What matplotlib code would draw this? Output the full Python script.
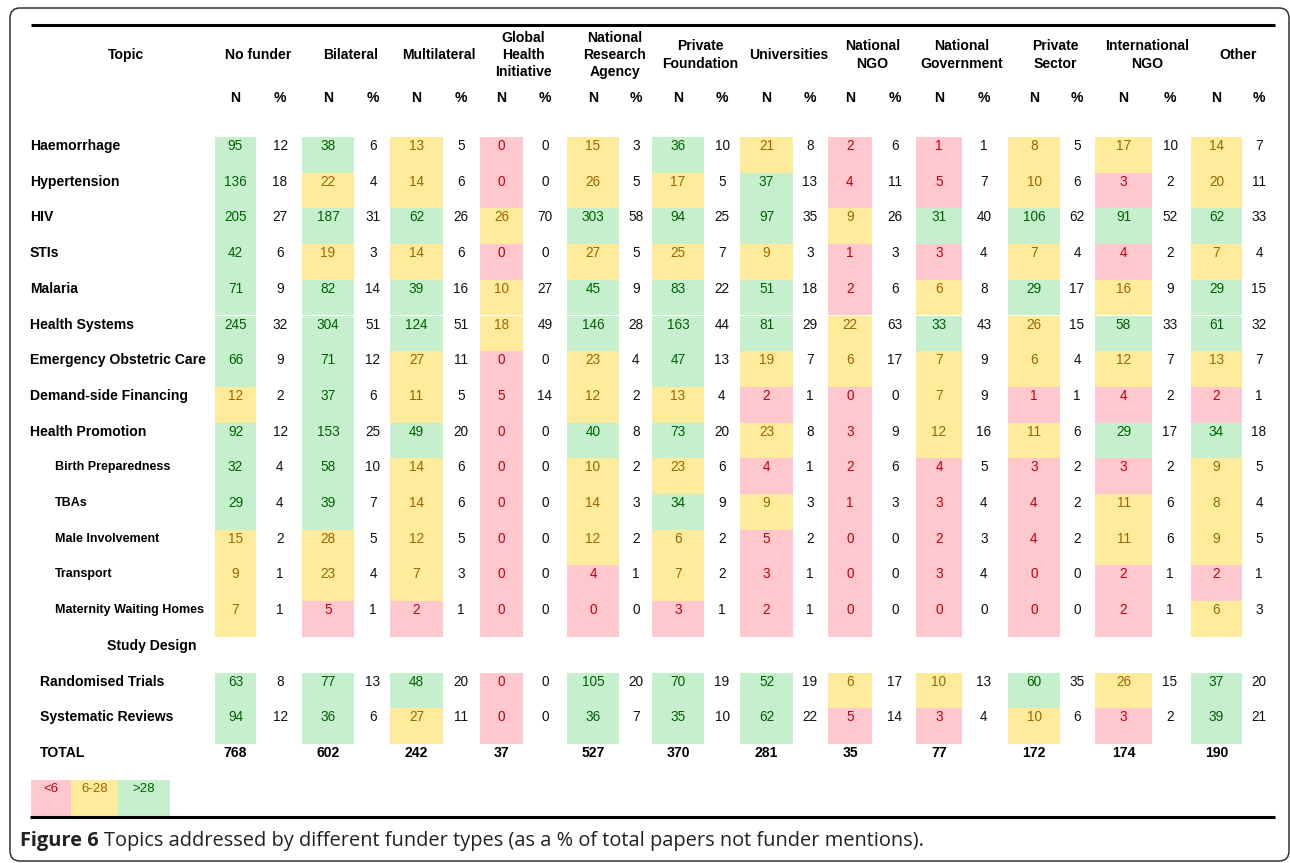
import matplotlib.pyplot as plt
from matplotlib.patches import Rectangle, FancyBboxPatch

# funder types (header text, with line breaks as in the figure)
funders = ["No funder", "Bilateral", "Multilateral", "Global\nHealth\nInitiative",
           "National\nResearch\nAgency", "Private\nFoundation", "Universities",
           "National\nNGO", "National\nGovernment", "Private\nSector",
           "International\nNGO", "Other"]

topics = ["Haemorrhage", "Hypertension", "HIV", "STIs", "Malaria", "Health Systems",
          "Emergency Obstetric Care", "Demand-side Financing", "Health Promotion",
          "Birth Preparedness", "TBAs", "Male Involvement", "Transport",
          "Maternity Waiting Homes", "Study Design", "Randomised Trials",
          "Systematic Reviews"]
# 0 = topic, 1 = sub-topic, 2 = section heading, 3 = study design row
levels = [0, 0, 0, 0, 0, 0, 0, 0, 0, 1, 1, 1, 1, 1, 2, 3, 3]

# N per funder for each topic row (None for the heading row)
n_vals = [
    [95, 38, 13, 0, 15, 36, 21, 2, 1, 8, 17, 14],
    [136, 22, 14, 0, 26, 17, 37, 4, 5, 10, 3, 20],
    [205, 187, 62, 26, 303, 94, 97, 9, 31, 106, 91, 62],
    [42, 19, 14, 0, 27, 25, 9, 1, 3, 7, 4, 7],
    [71, 82, 39, 10, 45, 83, 51, 2, 6, 29, 16, 29],
    [245, 304, 124, 18, 146, 163, 81, 22, 33, 26, 58, 61],
    [66, 71, 27, 0, 23, 47, 19, 6, 7, 6, 12, 13],
    [12, 37, 11, 5, 12, 13, 2, 0, 7, 1, 4, 2],
    [92, 153, 49, 0, 40, 73, 23, 3, 12, 11, 29, 34],
    [32, 58, 14, 0, 10, 23, 4, 2, 4, 3, 3, 9],
    [29, 39, 14, 0, 14, 34, 9, 1, 3, 4, 11, 8],
    [15, 28, 12, 0, 12, 6, 5, 0, 2, 4, 11, 9],
    [9, 23, 7, 0, 4, 7, 3, 0, 3, 0, 2, 2],
    [7, 5, 2, 0, 0, 3, 2, 0, 0, 0, 2, 6],
    None,
    [63, 77, 48, 0, 105, 70, 52, 6, 10, 60, 26, 37],
    [94, 36, 27, 0, 36, 35, 62, 5, 3, 10, 3, 39],
]
pct_vals = [
    [12, 6, 5, 0, 3, 10, 8, 6, 1, 5, 10, 7],
    [18, 4, 6, 0, 5, 5, 13, 11, 7, 6, 2, 11],
    [27, 31, 26, 70, 58, 25, 35, 26, 40, 62, 52, 33],
    [6, 3, 6, 0, 5, 7, 3, 3, 4, 4, 2, 4],
    [9, 14, 16, 27, 9, 22, 18, 6, 8, 17, 9, 15],
    [32, 51, 51, 49, 28, 44, 29, 63, 43, 15, 33, 32],
    [9, 12, 11, 0, 4, 13, 7, 17, 9, 4, 7, 7],
    [2, 6, 5, 14, 2, 4, 1, 0, 9, 1, 2, 1],
    [12, 25, 20, 0, 8, 20, 8, 9, 16, 6, 17, 18],
    [4, 10, 6, 0, 2, 6, 1, 6, 5, 2, 2, 5],
    [4, 7, 6, 0, 3, 9, 3, 3, 4, 2, 6, 4],
    [2, 5, 5, 0, 2, 2, 2, 0, 3, 2, 6, 5],
    [1, 4, 3, 0, 1, 2, 1, 0, 4, 0, 1, 1],
    [1, 1, 1, 0, 0, 1, 1, 0, 0, 0, 1, 3],
    None,
    [8, 13, 20, 0, 20, 19, 19, 17, 13, 35, 15, 20],
    [12, 6, 11, 0, 7, 10, 22, 14, 4, 6, 2, 21],
]
totals = [768, 602, 242, 37, 527, 370, 281, 35, 77, 172, 174, 190]

legend_labels = ["<6", "6-28", ">28"]
caption_bold = "Figure 6"
caption = "Topics addressed by different funder types (as a % of total papers not funder mentions)."

# layout (pixel coordinates of the 1290x863 canvas)
n_left = [215, 302, 390, 480, 567, 652, 740, 828, 916, 1008, 1095, 1191]
n_right = [256, 354, 443, 523, 619, 704, 793, 872, 962, 1060, 1152, 1242]
pct_x = [280, 373, 461, 545, 636, 722, 810, 895, 984, 1077, 1170, 1259]
row0, pitch = 146, 35.7

fills = {"r": "#ffc7ce", "y": "#ffeb9c", "g": "#c6efce"}
inks = {"r": "#c0000c", "y": "#9c6500", "g": "#006100"}


def band(v):
    if v < 6:
        return "r"
    if v <= 28:
        return "y"
    return "g"


fig = plt.figure(figsize=(12.9, 8.63), dpi=100)
ax = fig.add_axes([0, 0, 1, 1])
ax.set_xlim(0, 1290)
ax.set_ylim(863, 0)
ax.axis("off")

font = "Liberation Sans"
fs_num = 9.8
fs_lab = 10.1
fs_sub = 9.0

# outer rounded frame and rules
ax.add_patch(FancyBboxPatch((10, 8), 1279, 853, boxstyle="round,pad=0,rounding_size=10",
                            fill=False, ec="#333333", lw=1.1))
ax.plot([31, 1275], [25, 25], color="black", lw=2.2, solid_capstyle="butt")
ax.plot([30, 1275], [817, 817], color="black", lw=2.2, solid_capstyle="butt")

# header
ax.text(126, 55, "Topic", ha="center", va="center", fontsize=fs_lab, fontweight="bold", family=font)
for j, name in enumerate(funders):
    cx = ((n_left[j] + n_right[j]) / 2 + pct_x[j]) / 2
    ax.text(cx, 55, name, ha="center", va="center", fontsize=fs_lab, fontweight="bold",
            family=font, linespacing=1.3)
    ax.text((n_left[j] + n_right[j]) / 2, 98, "N", ha="center", va="center",
            fontsize=fs_lab, fontweight="bold", family=font)
    ax.text(pct_x[j], 98, "%", ha="center", va="center", fontsize=fs_lab,
            fontweight="bold", family=font)

# body rows
for i, (label, lvl) in enumerate(zip(topics, levels)):
    y = row0 + i * pitch
    if lvl == 0:
        ax.text(30, y, label, ha="left", va="center", fontsize=fs_lab, fontweight="bold", family=font)
    elif lvl == 1:
        ax.text(55, y, label, ha="left", va="center", fontsize=fs_sub, fontweight="bold", family=font)
    elif lvl == 2:
        ax.text(152, y, label, ha="center", va="center", fontsize=fs_lab, fontweight="bold", family=font)
    else:
        ax.text(40, y, label, ha="left", va="center", fontsize=fs_lab, fontweight="bold", family=font)
    if n_vals[i] is None:
        continue
    for j in range(len(funders)):
        v = n_vals[i][j]
        b = band(v)
        ax.add_patch(Rectangle((n_left[j], y - 9), n_right[j] - n_left[j], pitch,
                               fc=fills[b], ec="none", zorder=0))
        ax.text((n_left[j] + n_right[j]) / 2, y, str(v), ha="center", va="center",
                fontsize=fs_num, color=inks[b], family=font)
        ax.text(pct_x[j], y, str(pct_vals[i][j]), ha="center", va="center",
                fontsize=fs_num, color="#111111", family=font)

# totals
ty = row0 + len(topics) * pitch
ax.text(40, ty, "TOTAL", ha="left", va="center", fontsize=fs_lab, fontweight="bold", family=font)
for j, t in enumerate(totals):
    ax.text((n_left[j] + n_right[j]) / 2, ty, str(t), ha="center", va="center",
            fontsize=fs_lab, fontweight="bold", family=font)

# legend
leg_x = [31, 71, 118, 170]
for k, (lab, b) in enumerate(zip(legend_labels, ["r", "y", "g"])):
    ax.add_patch(Rectangle((leg_x[k], 780), leg_x[k + 1] - leg_x[k], 36, fc=fills[b], ec="none"))
    ax.text((leg_x[k] + leg_x[k + 1]) / 2, 789, lab, ha="center", va="center",
            fontsize=9.5, color=inks[b], family=font)

# caption
cap_font = "Open Sans"
t1 = ax.text(20, 841, caption_bold, ha="left", va="center", fontsize=14.4,
             fontweight="bold", family=cap_font, color="#222222")
fig.canvas.draw()
bb = t1.get_window_extent()
x_end = ax.transData.inverted().transform((bb.x1, bb.y0))[0]
ax.text(x_end + 5, 841, caption, ha="left", va="center", fontsize=14.4,
        family=cap_font, color="#222222")

fig.savefig("out.png", dpi=100)
